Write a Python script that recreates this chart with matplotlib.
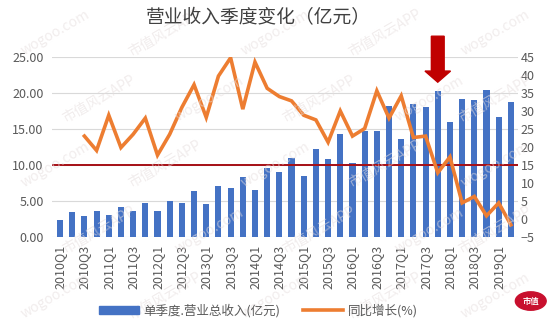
import numpy as np
import matplotlib
matplotlib.use("Agg")
import matplotlib.pyplot as plt
from matplotlib.patches import FancyArrow, Patch
from matplotlib.lines import Line2D

plt.rcParams['font.family'] = ['Noto Sans CJK SC', 'DejaVu Sans']

# quarters 2010Q1 .. 2019Q2
quarters = [f"{y}Q{q}" for y in range(2010, 2020) for q in range(1, 5)][:38]

# single-quarter total revenue (100 million yuan)
revenue = [2.34, 3.40, 2.85, 3.64, 3.03, 4.10, 3.55, 4.66, 3.55, 5.03,
           4.66, 6.39, 4.52, 7.04, 6.76, 8.35, 6.48, 9.55, 9.00, 11.00,
           8.39, 12.20, 10.86, 14.27, 10.25, 14.73, 14.68, 18.18, 13.66, 18.46,
           18.00, 20.32, 15.99, 19.12, 19.02, 20.42, 16.69, 18.74]

# year-on-year growth (%), starts at 2010Q3
growth = [np.nan, np.nan, 23.0, 19.0, 28.8, 19.8, 23.5, 28.0, 17.7, 23.5,
          31.0, 37.3, 28.2, 39.7, 44.8, 30.5, 43.6, 36.3, 34.0, 32.8,
          28.8, 27.5, 21.3, 30.0, 23.0, 25.1, 35.6, 28.0, 34.2, 22.6,
          23.0, 12.8, 17.2, 4.4, 6.2, 0.8, 4.4, -1.7]

ref_level = 10.0
highlight = "2017Q4"

BLUE = "#4472C4"
ORANGE = "#ED7D31"
DARKRED = "#C00000"
TXT = "#595959"

x = np.arange(len(quarters))

fig = plt.figure(figsize=(5.5, 3.29), dpi=100)
ax = fig.add_axes([0.0945, 0.2806, 0.847, 0.546])
ax2 = ax.twinx()

# faint watermark layer, kept inside the canvas
marks = ["wogoo.com", "市值风云APP"]
for i, yy in enumerate(np.linspace(0.1, 0.9, 5)):
    for j, xx in enumerate(np.linspace(0.1, 0.9, 5)):
        fig.text(xx + (0.08 if i % 2 and j < 4 else 0), yy, marks[(i + j) % 2],
                 rotation=30, fontsize=10, color="#e6dede", alpha=0.55,
                 ha="center", va="center", zorder=0)

ax.set_zorder(ax2.get_zorder() - 1)
ax.patch.set_visible(False)
ax2.patch.set_visible(False)

ax.bar(x, revenue, width=0.5, color=BLUE, zorder=3)
ax.axhline(ref_level, color="#A50F15", lw=1.4, zorder=4)
ax2.plot(x, growth, color=ORANGE, lw=2.6, solid_joinstyle="miter", zorder=5)

ax.set_xlim(-0.66, 37.57)
ax.set_ylim(0, 25)
ax.set_yticks(np.arange(0, 26, 5))
ax.set_yticklabels([f"{v:.2f}" for v in np.arange(0, 26, 5)])
ax2.set_ylim(-5, 45)
ax2.set_yticks(np.arange(-5, 46, 5))

ax.grid(axis="y", color="#D9D9D9", lw=0.8, zorder=0)
ax.set_xticks(x[::2])
ax.set_xticklabels(quarters[::2], rotation=90)

for a in (ax, ax2):
    for s in a.spines.values():
        s.set_visible(False)
    a.tick_params(length=0, labelsize=9, colors=TXT)
ax.tick_params(axis="y", pad=6)
ax2.tick_params(axis="y", pad=2)
ax.tick_params(axis="x", pad=6)

# arrow pointing at the highlighted quarter
hi = quarters.index(highlight)
arrow = FancyArrow(hi, 27.9, 0, -6.4, width=1.05, head_width=2.1,
                   head_length=1.55, length_includes_head=True,
                   color=DARKRED, clip_on=False, zorder=6)
ax.add_patch(arrow)

fig.text(0.47, 0.947, "营业收入季度变化（亿元）", fontsize=13.5, color="#404040",
         ha="center", va="center")

handles = [Patch(color=BLUE), Line2D([], [], color=ORANGE, lw=2.6)]
fig.legend(handles, ["单季度.营业总收入(亿元)", "同比增长(%)"],
           loc="center", bbox_to_anchor=(0.47, 0.057), ncol=2, frameon=False,
           fontsize=9, labelcolor=TXT, handlelength=3.2, handleheight=0.6,
           columnspacing=1.8, handletextpad=0.4)

# small logo bottom right
fig.patches.append(plt.Circle((0.965, 0.085), 0.028, transform=fig.transFigure,
                              color="#C8102E", zorder=1))
fig.text(0.965, 0.085, "市值", fontsize=6, color="white", ha="center",
         va="center", fontweight="bold")

fig.savefig("out.png", dpi=100)
